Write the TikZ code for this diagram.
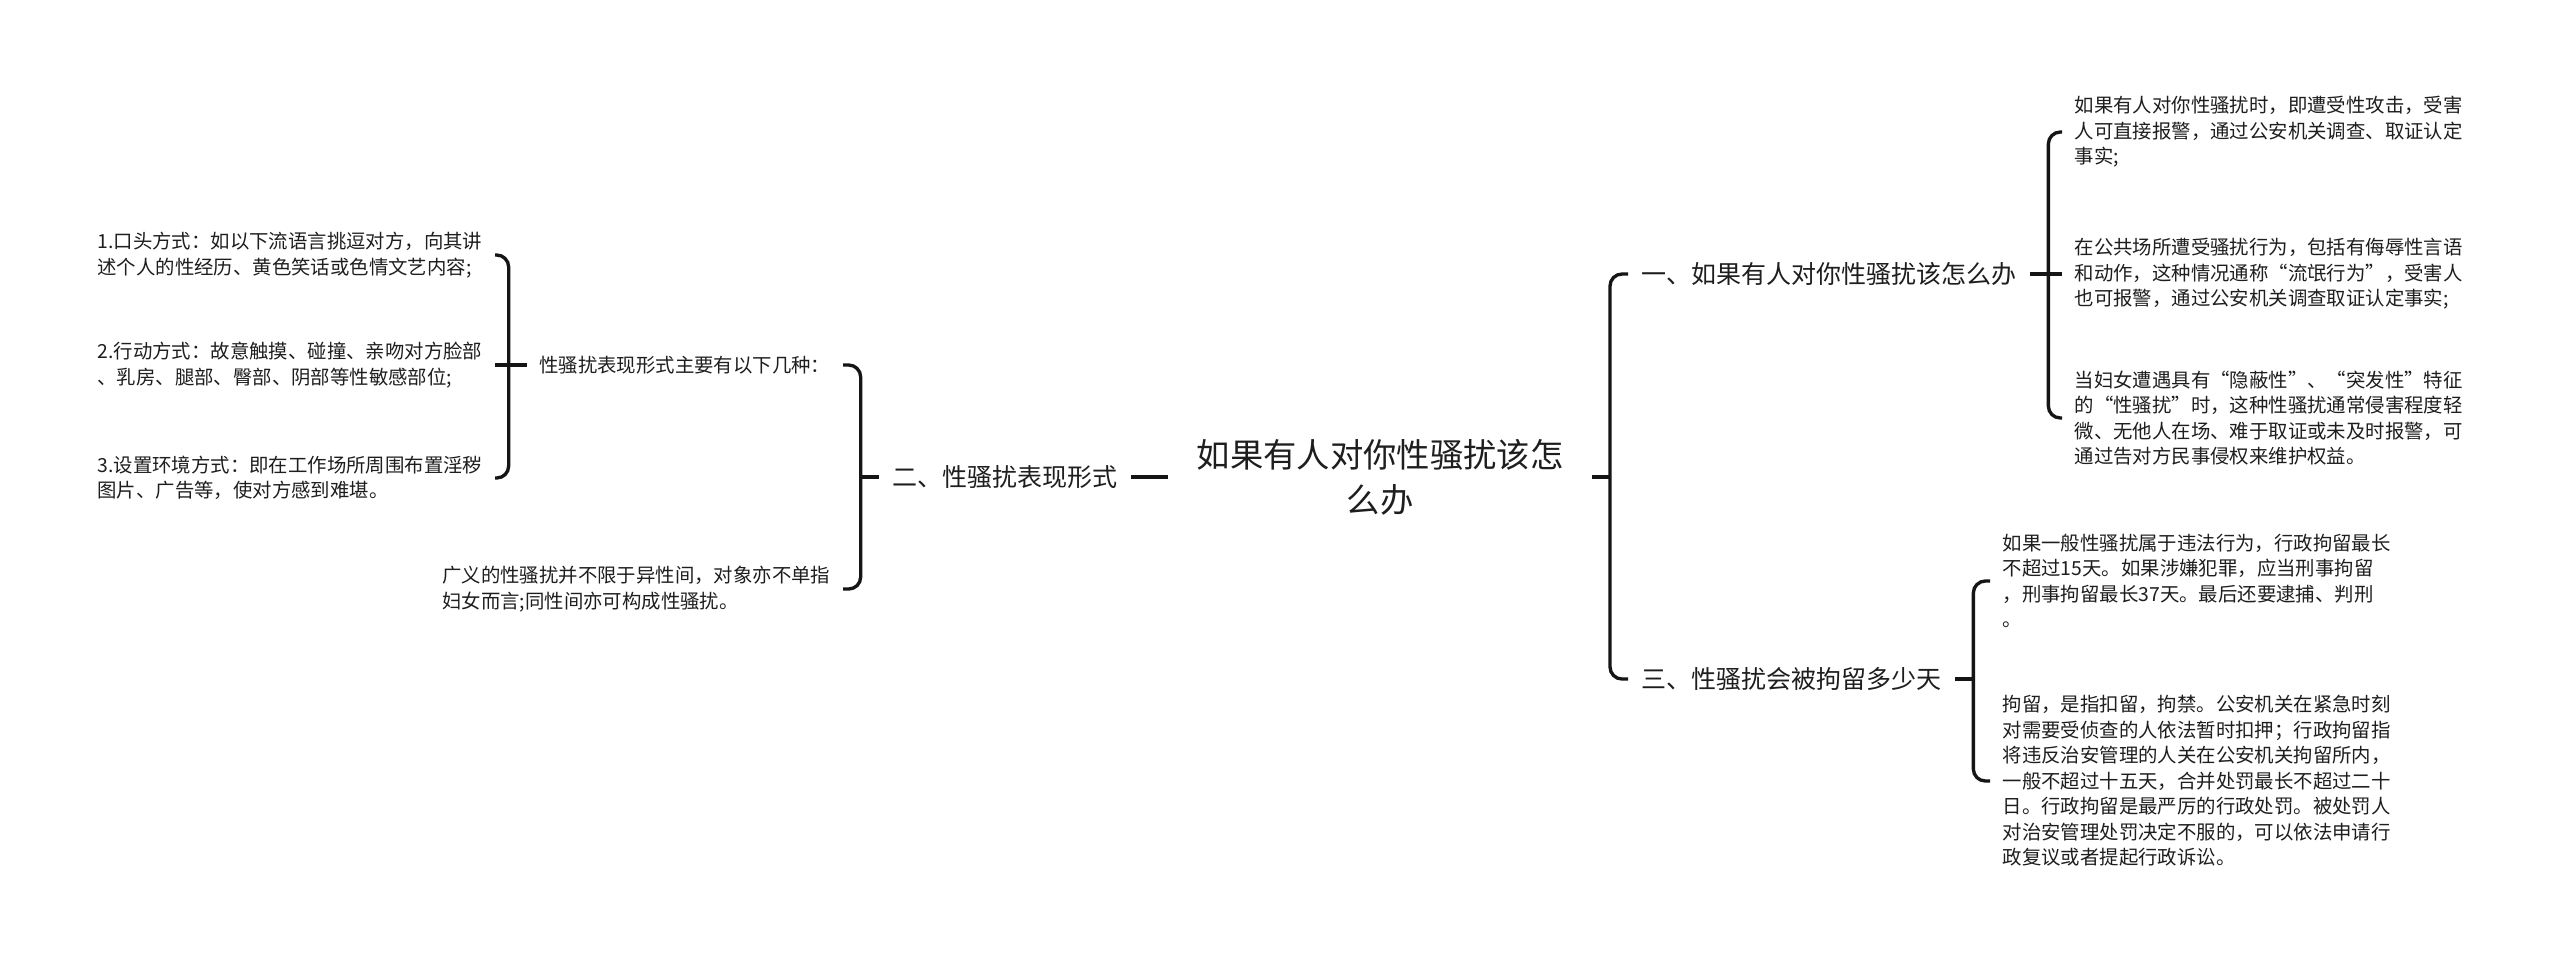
\documentclass[tikz,border=0pt]{standalone}
\usepackage{fontspec}
\newfontfamily\cjk{Noto Sans CJK SC}
\definecolor{linec}{HTML}{151515}
\definecolor{txt}{HTML}{1E1E1E}
\begin{document}
\begin{tikzpicture}[x=0.3pt,y=-0.3pt,
  line/.style={draw=linec, line width=1pt, rounded corners=3.6pt},
  rootnode/.style={font=\cjk\fontsize{10pt}{13.5pt}\selectfont, align=center, inner xsep=8.4pt, inner ysep=0pt, text=txt},
  lvl/.style={font=\cjk\fontsize{7.5pt}{9pt}\selectfont, inner xsep=3.9pt, inner ysep=0pt, text=txt},
  leaf/.style={font=\cjk\fontsize{5.82pt}{7.65pt}\selectfont, align=left, inner xsep=3.6pt, inner ysep=0pt, text=txt},
]
\useasboundingbox[fill=white] (0,0) rectangle (2560,961);
% root
\node[rootnode] (root) at (1380,477) {如果有人对你性骚扰该怎\\么办};
% left branch
\node[lvl, anchor=east] (n2) at (1131,477) {二、性骚扰表现形式};
\coordinate (j2) at ([xshift=-5.4pt]n2.west);
\node[leaf, anchor=east] (L1) at (843,365) {性骚扰表现形式主要有以下几种：};
\node[leaf, anchor=east] (L2) at (843,589) {广义的性骚扰并不限于异性间，对象亦不单指\\妇女而言;同性间亦可构成性骚扰。};
\coordinate (j1) at ([xshift=-5.4pt]L1.west);
\node[leaf, anchor=east] (c1) at (495,255) {1.口头方式：如以下流语言挑逗对方，向其讲\\述个人的性经历、黄色笑话或色情文艺内容;};
\node[leaf, anchor=east] (c2) at (495,365) {2.行动方式：故意触摸、碰撞、亲吻对方脸部\\、乳房、腿部、臀部、阴部等性敏感部位;};
\node[leaf, anchor=east] (c3) at (495,478) {3.设置环境方式：即在工作场所周围布置淫秽\\图片、广告等，使对方感到难堪。};
\draw[line] (root.west) -- (n2.east);
\draw[line] (n2.west) -- (j2);
\draw[line] (L1.east) -| (j2);
\draw[line] (L2.east) -| (j2);
\draw[line] (L1.west) -- (j1);
\draw[line] (c1.east) -| (j1);
\draw[line] (c2.east) -- (j1);
\draw[line] (c3.east) -| (j1);
% right branches
\coordinate (jr) at ([xshift=5.4pt]root.east);
\node[lvl, anchor=west] (n1) at (1628,274) {一、如果有人对你性骚扰该怎么办};
\node[lvl, anchor=west] (n3) at (1628,679) {三、性骚扰会被拘留多少天};
\draw[line] (root.east) -- (jr);
\draw[line] (n1.west) -| (jr);
\draw[line] (n3.west) -| (jr);
\coordinate (j11) at ([xshift=5.4pt]n1.east);
\node[leaf, anchor=west] (a) at (2062,132) {如果有人对你性骚扰时，即遭受性攻击，受害\\人可直接报警，通过公安机关调查、取证认定\\事实;};
\node[leaf, anchor=west] (b) at (2062,274) {在公共场所遭受骚扰行为，包括有侮辱性言语\\和动作，这种情况通称“流氓行为”，受害人\\也可报警，通过公安机关调查取证认定事实;};
\node[leaf, anchor=west] (c) at (2062,418) {当妇女遭遇具有“隐蔽性”、“突发性”特征\\的“性骚扰”时，这种性骚扰通常侵害程度轻\\微、无他人在场、难于取证或未及时报警，可\\通过告对方民事侵权来维护权益。};
\draw[line] (n1.east) -- (j11);
\draw[line] (a.west) -| (j11);
\draw[line] (b.west) -- (j11);
\draw[line] (c.west) -| (j11);
\coordinate (j3) at ([xshift=5.4pt]n3.east);
\node[leaf, anchor=west] (d) at (1990,581) {如果一般性骚扰属于违法行为，行政拘留最长\\不超过15天。如果涉嫌犯罪，应当刑事拘留\\，刑事拘留最长37天。最后还要逮捕、判刑\\。};
\node[leaf, anchor=west] (e) at (1990,781) {拘留，是指扣留，拘禁。公安机关在紧急时刻\\对需要受侦查的人依法暂时扣押；行政拘留指\\将违反治安管理的人关在公安机关拘留所内，\\一般不超过十五天，合并处罚最长不超过二十\\日。行政拘留是最严厉的行政处罚。被处罚人\\对治安管理处罚决定不服的，可以依法申请行\\政复议或者提起行政诉讼。};
\draw[line] (n3.east) -- (j3);
\draw[line] (d.west) -| (j3);
\draw[line] (e.west) -| (j3);
\end{tikzpicture}
\end{document}
